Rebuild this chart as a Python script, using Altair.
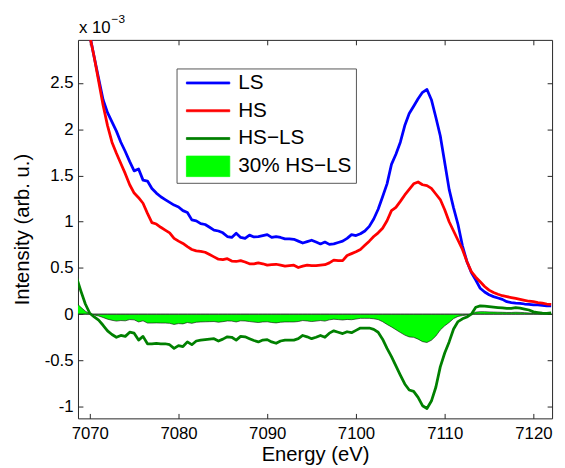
import altair as alt
import pandas as pd

ENERGY = [
    7068.5, 7069.0, 7069.5, 7070.0, 7070.5, 7071.0, 7071.5, 7072.0, 7072.5, 7073.0,
    7073.5, 7074.0, 7074.5, 7075.0, 7075.5, 7076.0, 7076.5, 7077.0, 7077.5, 7078.0,
    7078.5, 7079.0, 7079.5, 7080.0, 7080.5, 7081.0, 7081.5, 7082.0, 7082.5, 7083.0,
    7083.5, 7084.0, 7084.5, 7085.0, 7085.5, 7086.0, 7086.5, 7087.0, 7087.5, 7088.0,
    7088.5, 7089.0, 7089.5, 7090.0, 7090.5, 7091.0, 7091.5, 7092.0, 7092.5, 7093.0,
    7093.5, 7094.0, 7094.5, 7095.0, 7095.5, 7096.0, 7096.5, 7097.0, 7097.5, 7098.0,
    7098.5, 7099.0, 7099.5, 7100.0, 7100.5, 7101.0, 7101.5, 7102.0, 7102.5, 7103.0,
    7103.5, 7104.0, 7104.5, 7105.0, 7105.5, 7106.0, 7106.5, 7107.0, 7107.5, 7108.0,
    7108.5, 7109.0, 7109.5, 7110.0, 7110.5, 7111.0, 7111.5, 7112.0, 7112.5, 7113.0,
    7113.5, 7114.0, 7114.5, 7115.0, 7115.5, 7116.0, 7116.5, 7117.0, 7117.5, 7118.0,
    7118.5, 7119.0, 7119.5, 7120.0, 7120.5, 7121.0, 7121.5, 7122.0,
]

# intensities in units of 1e-3
LS = [
    3.85, 3.55, 3.25, 3.02, 2.78, 2.55, 2.32, 2.18, 2.08, 1.98,
    1.86, 1.76, 1.65, 1.55, 1.57, 1.45, 1.44, 1.36, 1.31, 1.27,
    1.24, 1.21, 1.18, 1.16, 1.12, 1.10, 1.02, 1.01, 0.98, 0.97,
    0.94, 0.91, 0.90, 0.88, 0.84, 0.83, 0.875, 0.83, 0.82, 0.855,
    0.835, 0.84, 0.85, 0.86, 0.83, 0.84, 0.83, 0.815, 0.815, 0.81,
    0.79, 0.77, 0.785, 0.80, 0.78, 0.76, 0.78, 0.755, 0.76, 0.775,
    0.79, 0.82, 0.86, 0.85, 0.87, 0.90, 0.95, 1.03, 1.135, 1.27,
    1.41, 1.62, 1.73, 1.86, 2.04, 2.17, 2.25, 2.33, 2.40, 2.43,
    2.32, 2.13, 1.93, 1.64, 1.35, 1.15, 0.97, 0.74, 0.57, 0.45,
    0.37, 0.28, 0.24, 0.21, 0.19, 0.175, 0.16, 0.135, 0.125, 0.12,
    0.118, 0.11, 0.106, 0.10, 0.10, 0.095, 0.09, 0.09,
]

HS = [
    4.25, 3.75, 3.35, 3.01, 2.78, 2.52, 2.26, 2.04, 1.86, 1.74,
    1.63, 1.52, 1.40, 1.31, 1.26, 1.20, 1.09, 0.99, 0.975, 0.94,
    0.91, 0.88, 0.82, 0.79, 0.765, 0.73, 0.70, 0.685, 0.68, 0.67,
    0.645, 0.62, 0.595, 0.59, 0.60, 0.575, 0.57, 0.58, 0.565, 0.545,
    0.545, 0.555, 0.545, 0.53, 0.535, 0.54, 0.53, 0.52, 0.525, 0.53,
    0.505, 0.52, 0.53, 0.525, 0.525, 0.53, 0.535, 0.555, 0.585, 0.58,
    0.58, 0.635, 0.655, 0.675, 0.70, 0.745, 0.79, 0.84, 0.88, 0.93,
    1.01, 1.12, 1.155, 1.22, 1.29, 1.35, 1.41, 1.43, 1.40, 1.39,
    1.36, 1.30, 1.24, 1.13, 1.00, 0.90, 0.80, 0.70, 0.57, 0.46,
    0.40, 0.35, 0.30, 0.26, 0.235, 0.215, 0.20, 0.19, 0.18, 0.17,
    0.16, 0.15, 0.14, 0.135, 0.125, 0.12, 0.11, 0.105,
]

DIFF = [
    0.40, 0.25, 0.11, 0.01, -0.03, -0.065, -0.12, -0.18, -0.22, -0.25,
    -0.23, -0.24, -0.195, -0.205, -0.28, -0.24, -0.32, -0.32, -0.315, -0.32,
    -0.32, -0.33, -0.37, -0.34, -0.35, -0.30, -0.33, -0.29, -0.28, -0.275,
    -0.27, -0.265, -0.29, -0.27, -0.245, -0.25, -0.28, -0.24, -0.245, -0.265,
    -0.285, -0.30, -0.28, -0.275, -0.30, -0.315, -0.29, -0.28, -0.28, -0.28,
    -0.265, -0.23, -0.245, -0.265, -0.25, -0.23, -0.25, -0.205, -0.18, -0.195,
    -0.21, -0.19, -0.20, -0.175, -0.15, -0.15, -0.15, -0.165, -0.195, -0.27,
    -0.37, -0.46, -0.56, -0.66, -0.755, -0.82, -0.835, -0.90, -0.99, -1.02,
    -0.94, -0.79, -0.57, -0.42, -0.30, -0.16, -0.08, -0.05, -0.03, 0.0,
    0.075, 0.09, 0.088, 0.082, 0.077, 0.072, 0.068, 0.062, 0.062, 0.07,
    0.065, 0.055, 0.045, 0.025, 0.018, 0.012, 0.01, 0.015,
]

SERIES = ["LS", "HS", "HS\u2212LS", "30% HS\u2212LS"]
COLORS = ["#0000ff", "#ff0000", "#008000", "#00ff00"]
X_TICKS = [7070, 7080, 7090, 7100, 7110, 7120]
Y_TICKS = [-1, -0.5, 0, 0.5, 1, 1.5, 2, 2.5]
X_TITLE = "Energy (eV)"
Y_TITLE = "Intensity (arb. u.)"
EXP_BASE = "x 10"
EXP_POW = "\u22123"

FONT = "Liberation Sans"
FRAME = "#262626"

df = pd.DataFrame({"energy": ENERGY, "LS": LS, "HS": HS, "DIFF": DIFF})

xscale = alt.Scale(domain=[7068.67, 7122.1], nice=False, zero=False)
yscale = alt.Scale(domain=[-1.127, 2.967], nice=False, zero=False)


def cscale():
    return alt.Scale(domain=SERIES, range=COLORS)


common_axis = dict(grid=False, domain=False, tickSize=5, offset=-5,
                   tickColor=FRAME, tickWidth=1)

x_bottom = alt.Axis(orient="bottom", values=X_TICKS, labelExpr="datum.value + ''",
                    labelPadding=7, labelFont=FONT, labelFontSize=17, labelColor="black",
                    title=X_TITLE, titleFont=FONT, titleFontSize=20.5,
                    titleFontWeight="normal", titleColor="black", titlePadding=4,
                    **common_axis)
y_left = alt.Axis(orient="left", values=Y_TICKS, labelExpr="datum.value + ''",
                  labelPadding=5, labelFont=FONT, labelFontSize=17, labelColor="black",
                  title=Y_TITLE, titleFont=FONT, titleFontSize=20.5,
                  titleFontWeight="normal", titleColor="black", titlePadding=12,
                  **common_axis)
x_top = alt.Axis(orient="top", values=X_TICKS, labels=False, title=None, **common_axis)
y_right = alt.Axis(orient="right", values=Y_TICKS, labels=False, title=None, **common_axis)

# legend symbols: every path spans the same box so all rows get equal height
LINE_SYM = "M-2.75,-1.3M-2.75,1.3M-2.75,-0.125H2.75V0.125H-2.75Z"
RECT_SYM = "M-2.75,-1.3H2.75V1.3H-2.75Z"
is_area = "datum.value === '30% HS\u2212LS'"

legend = alt.Legend(
    title=None, orient="none", legendX=100, legendY=29, direction="vertical",
    symbolType=alt.ExprRef(expr=f"{is_area} ? '{RECT_SYM}' : '{LINE_SYM}'"),
    symbolStrokeColor=alt.ExprRef(expr=f"{is_area} ? 'black' : scale('color', datum.value)"),
    symbolStrokeWidth=0.8, symbolOpacity=1,
    symbolSize=256, symbolOffset=17.3, labelOffset=20,
    labelFont=FONT, labelFontSize=21, labelColor="black",
    rowPadding=3.2, padding=4.2, strokeColor="#555555", fillColor="white",
)

# legend-only layer (no marks drawn): owns the "color" scale and its legend
legend_layer = alt.Chart(df).transform_filter("false").transform_calculate(
    series="'LS'"
).mark_point(filled=True, opacity=1).encode(
    color=alt.Color("series:N", scale=cscale(), legend=legend),
)

area = alt.Chart(df).transform_calculate(
    a30="0.3 * datum.DIFF", series="'30% HS\u2212LS'"
).mark_area(stroke="black", strokeWidth=0.6, clip=True, opacity=1).encode(
    x=alt.X("energy:Q", scale=xscale, axis=None),
    y=alt.Y("a30:Q", scale=yscale, axis=None),
    y2=alt.datum(0),
    fill=alt.Fill("series:N", scale=cscale(), legend=None),
)

baseline = alt.Chart(df).transform_calculate(zero="0").mark_line(
    color="#333333", strokeWidth=0.8, clip=True
).encode(
    x=alt.X("energy:Q", scale=xscale, axis=x_top),
    y=alt.Y("zero:Q", scale=yscale, axis=y_right),
)

lines = alt.Chart(df).transform_fold(
    ["LS", "HS", "DIFF"], as_=["key", "value"]
).transform_calculate(
    series="datum.key === 'DIFF' ? 'HS\u2212LS' : datum.key"
).mark_line(strokeWidth=2.8, clip=True, strokeJoin="round").encode(
    x=alt.X("energy:Q", scale=xscale, axis=x_bottom),
    y=alt.Y("value:Q", scale=yscale, axis=y_left),
    stroke=alt.Stroke("series:N", scale=cscale(), legend=None),
    detail="series:N",
)

exp_base = alt.Chart(pd.DataFrame({"t": [EXP_BASE]})).mark_text(
    align="left", baseline="alphabetic", font=FONT, fontSize=17, color="black"
).encode(text="t:N", x=alt.value(1), y=alt.value(-7))

exp_pow = alt.Chart(pd.DataFrame({"t": [EXP_POW]})).mark_text(
    align="left", baseline="alphabetic", font=FONT, fontSize=12, color="black"
).encode(text="t:N", x=alt.value(34), y=alt.value(-17))

chart = alt.layer(legend_layer, area, baseline, lines, exp_base, exp_pow).resolve_axis(
    x="independent", y="independent"
).properties(
    width=481, height=384,
    autosize=alt.AutoSizeParams(type="none"),
    padding={"left": 71, "top": 29, "right": 5, "bottom": 47},
    background="white",
).configure_view(stroke=FRAME, strokeWidth=1)

chart.save("out.html", embed_options={"renderer": "svg", "actions": False})
